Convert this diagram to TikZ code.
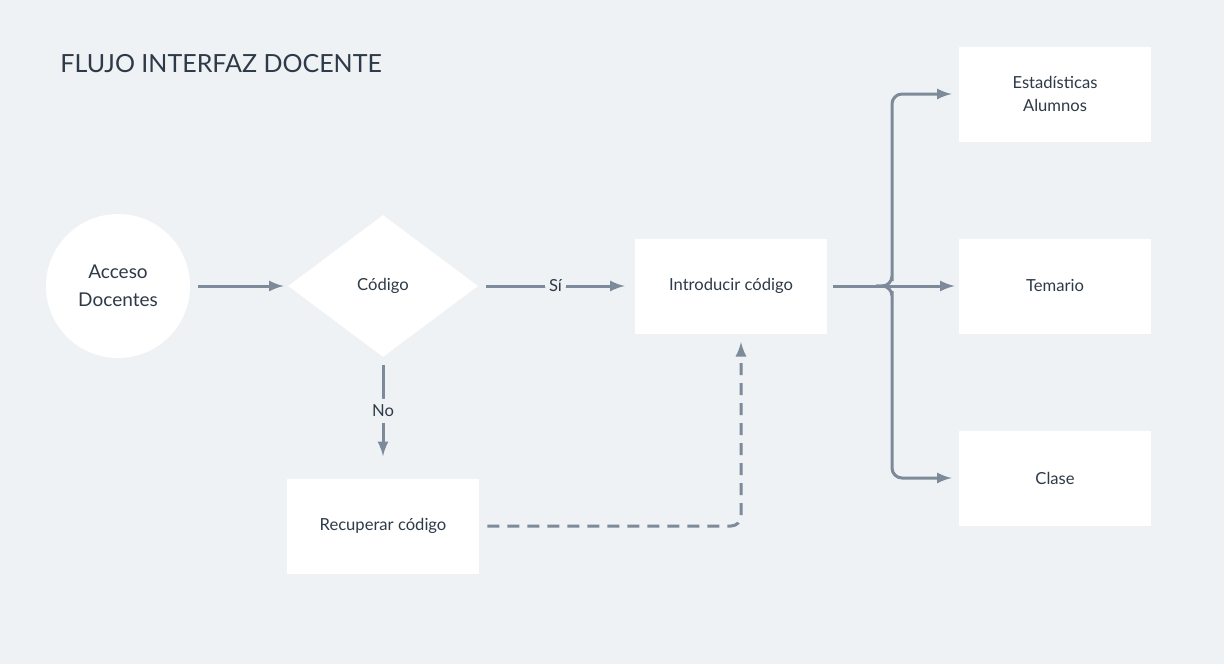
\documentclass[tikz,border=0pt]{standalone}
\usepackage{fontspec}
\setmainfont{Lato}
\usepackage{xcolor}
\usetikzlibrary{arrows,positioning,shapes.geometric}
\definecolor{bgc}{HTML}{EFF2F5}
\definecolor{linec}{HTML}{7D8A99}
\definecolor{txtc}{HTML}{2E3A48}
\tikzset{box/.style={rectangle,fill=white,minimum width=96pt,minimum height=47.5pt,align=center,text=txtc,font=\fontsize{8.3}{11.5}\selectfont},
conn/.style={draw=linec,line width=1.5pt,-latex,rounded corners=5pt}}
\begin{document}
\begin{tikzpicture}[x=0.5pt,y=-0.5pt]
\fill[bgc] (0,0) rectangle (1224,664);
\useasboundingbox (0,0) rectangle (1224,664);
\node (title) at (60,64) [anchor=west,inner sep=0pt,text=txtc,font=\fontsize{12.5}{14}\selectfont] {FLUJO INTERFAZ DOCENTE};
\node (a) at (118,286) [circle,fill=white,minimum size=72pt,inner sep=0pt,align=center,text=txtc,font=\fontsize{9.5}{14}\selectfont] {Acceso\\Docentes};
\node (b) at (383,286) [diamond,fill=white,minimum width=95pt,minimum height=71pt,inner sep=0pt,aspect=1.34,text=txtc,font=\fontsize{8.3}{10}\selectfont] {Código};
\node (c) at (731,286) [box] {Introducir código};
\node (d) at (383,526) [box] {Recuperar código};
\node (e) at (1055,94) [box] {Estadísticas\\Alumnos};
\node (f) at (1055,286) [box] {Temario};
\node (g) at (1055,478) [box] {Clase};
\coordinate (bend) at (892,286);
\coordinate (up) at (741,342);
\draw[conn] (a.east) ++(8,0) coordinate (a1) -- ([xshift=-2pt]b.west);
\draw[conn] ([xshift=4pt]b.east) -- node[fill=bgc,text=txtc,inner sep=2pt,font=\fontsize{8.3}{10}\selectfont] {Sí} ([xshift=-5pt]c.west);
\draw[conn] ([yshift=-4pt]b.south) -- node[fill=bgc,text=txtc,inner sep=3pt,font=\fontsize{8.3}{10}\selectfont] {No} ([yshift=11pt]d.north);
\draw[conn,dash pattern=on 6pt off 4pt] ([xshift=4pt]d.east) -| (up);
\draw[conn] ([xshift=3pt]c.east) -- ([xshift=-2pt]f.west);
\draw[conn] ([xshift=-8pt]bend) -| ++(16,-15) |- ([xshift=-3.5pt]e.west);
\draw[conn] ([xshift=-8pt]bend) -| ++(16,15) |- ([xshift=-3.5pt]g.west);
\end{tikzpicture}
\end{document}
